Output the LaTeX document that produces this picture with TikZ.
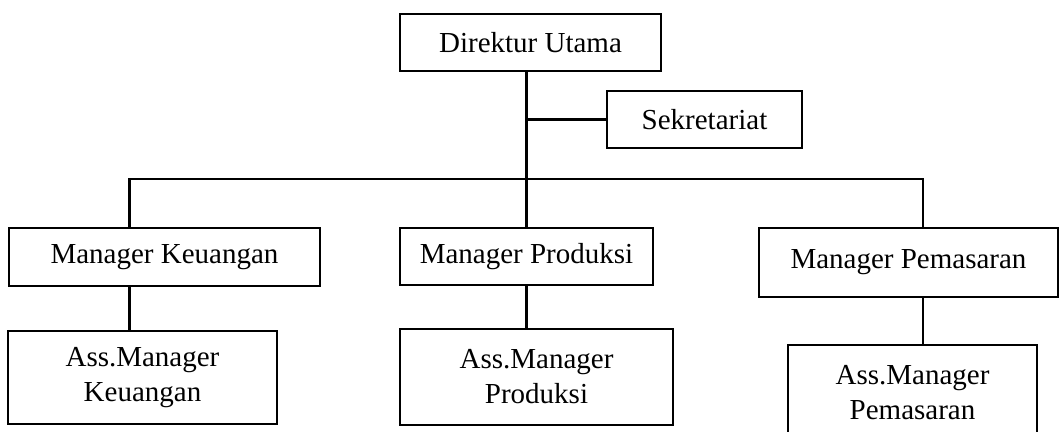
\documentclass[tikz,border=0pt]{standalone}
\usepackage{fontspec}
\setmainfont{Liberation Serif}
\begin{document}
\begin{tikzpicture}[x=1pt,y=-1pt,
  box/.style={draw,line width=2.6pt,inner sep=0pt,align=center,
    font=\fontsize{29}{35}\selectfont},
  conn/.style={line width=2.6pt}]
\useasboundingbox (0,0) rectangle (1060,431);
\node[box,minimum width=261pt,minimum height=57pt] (dir) at (530.5,42.5) {Direktur Utama};
\node[box,minimum width=195pt,minimum height=57pt] (sek) at (704.5,119.5) {Sekretariat};
\node[box,minimum width=311pt,minimum height=58pt] (mk) at (164.5,257) {Manager Keuangan};
\node[box,minimum width=253pt,minimum height=57pt] (mp) at (526.5,256.5) {Manager Produksi};
\node[box,minimum width=299pt,minimum height=69pt] (mpm) at (908.5,262.5) {Manager Pemasaran};
\node[box,minimum width=269pt,minimum height=93pt] (ak) at (142.5,377.5) {Ass.Manager\\Keuangan};
\node[box,minimum width=273pt,minimum height=96pt] (ap) at (536.5,377) {Ass.Manager\\Produksi};
\node[box,minimum width=249pt,minimum height=95pt] (apm) at (912.5,392.5) {Ass.Manager\\Pemasaran};
\coordinate (busL) at (129.5,179);
\coordinate (busR) at (923,179);
\draw[conn] (dir.south -| mp.north) -- (mp.north);
\draw[conn] (sek.west) -- (sek.west -| mp.north);
\draw[conn] (mk.north -| busL) -- (busL) -- (busR) -- (mpm.north -| busR);
\draw[conn] (mk.south -| busL) -- (ak.north -| busL);
\draw[conn] (mp.south) -- (ap.north -| mp.south);
\draw[conn] (mpm.south -| busR) -- (apm.north -| busR);
\end{tikzpicture}
\end{document}
